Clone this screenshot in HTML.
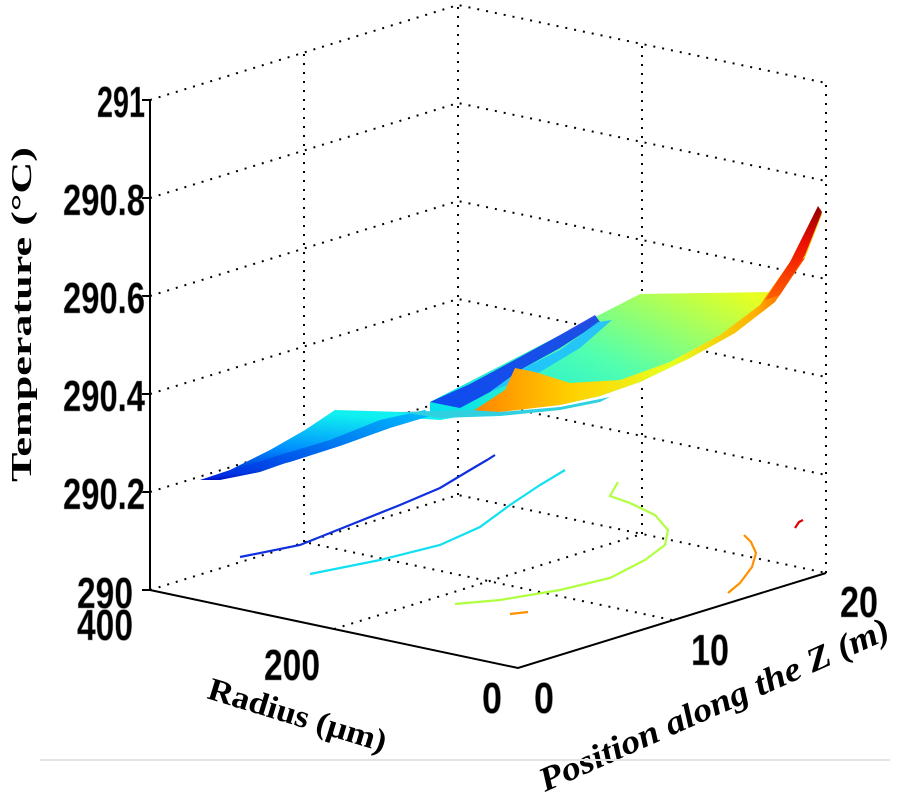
<!DOCTYPE html>
<html><head><meta charset="utf-8"><style>html,body{margin:0;padding:0;background:#fff}svg{display:block}</style></head>
<body>
<svg width="900" height="800" viewBox="0 0 900 800" xmlns="http://www.w3.org/2000/svg">
<defs>
<linearGradient id="gA" x1="0" y1="1" x2="0.3" y2="0"><stop offset="0" stop-color="#0010c8"/><stop offset="0.5" stop-color="#0090ff"/><stop offset="1" stop-color="#10f0f0"/></linearGradient>
<linearGradient id="gC" x1="0" y1="1" x2="1" y2="0"><stop offset="0" stop-color="#00e0f0"/><stop offset="0.35" stop-color="#50ffb0"/><stop offset="0.7" stop-color="#e8ff20"/><stop offset="1" stop-color="#ffb000"/></linearGradient>
<linearGradient id="gO" x1="0" y1="0" x2="1" y2="0"><stop offset="0" stop-color="#ff8000"/><stop offset="0.3" stop-color="#ffd000"/><stop offset="0.6" stop-color="#e8ff20"/><stop offset="0.85" stop-color="#ffb000"/><stop offset="1" stop-color="#ff4000"/></linearGradient>
<linearGradient id="gR" x1="0" y1="1" x2="0" y2="0"><stop offset="0" stop-color="#ff6000"/><stop offset="0.6" stop-color="#ee1000"/><stop offset="1" stop-color="#900000"/></linearGradient>
<linearGradient id="gB" x1="0" y1="1" x2="1" y2="0"><stop offset="0" stop-color="#0020e0"/><stop offset="1" stop-color="#00c0ff"/></linearGradient>
</defs>
<g stroke="#000" stroke-width="2" stroke-dasharray="2 7" fill="none">
<line x1="458" y1="495" x2="458" y2="5"/>
<line x1="826" y1="573" x2="826" y2="83"/>
<line x1="304" y1="542" x2="304" y2="52"/>
<line x1="642" y1="534" x2="642" y2="44"/>
<polyline points="150,100 458,5 826,83"/>
<polyline points="150,198 458,103 826,181"/>
<polyline points="150,296 458,201 826,279"/>
<polyline points="150,394 458,299 826,377"/>
<polyline points="150,492 458,397 826,475"/>
<polyline points="150,590 458,495 826,573"/>
<line x1="334" y1="629" x2="642" y2="534"/>
<line x1="672" y1="620" x2="304" y2="542"/>
</g>
<!-- surface -->
<polygon points="335,410 475,414 440,420 410,418 380,428 340,442 300,458 260,472 220,480 200,480 230,470 270,450 305,430" fill="url(#gA)"/>
<polygon points="200,480 240,474 290,462 340,446 390,428 430,416 425,410 380,420 330,440 280,455" fill="url(#gB)"/>
<polygon points="430,402 640,294 775,292 800,255 818,208 822,214 805,258 775,302 735,333 690,358 640,382 600,396 560,405 480,413 430,412" fill="url(#gC)"/>
<polygon points="430,402 470,384 520,357 560,335 595,315 600,322 560,348 520,370 490,392 460,408" fill="#1030f0" opacity="0.85"/>
<polygon points="490,392 520,370 560,350 598,322 612,320 580,348 540,372 515,382" fill="#20c0ff" opacity="0.9"/>
<polygon points="515,368 535,372 570,383 620,380 670,362 720,335 760,305 790,262 805,258 775,302 735,333 690,358 640,382 600,396 560,405 500,412 470,413 505,390" fill="url(#gO)"/>
<polygon points="790,262 818,206 822,212 805,255 780,295 765,300" fill="url(#gR)"/>
<polygon points="400,412 470,410 500,412 560,407 610,397 600,402 560,410 500,416 440,418" fill="#30d0e0"/>
<g fill="none" stroke-width="2.2">
<polyline stroke="#1030e0" points="240,557 300,545 350,525 400,505 440,488 470,470 487,460 495,455"/>
<polyline stroke="#10e0f0" points="310,574 380,560 440,545 480,527 510,505 540,485 565,470"/>
<polyline stroke="#b0ff40" points="455,604 500,600 560,590 610,578 645,560 665,545 668,530 655,515 630,503 610,496 618,482"/>
<polyline stroke="#ff9000" points="510,614 528,612"/>
<polyline stroke="#ff9000" points="728,593 740,583 752,567 756,553 751,542 744,535"/>
<polyline stroke="#e00000" points="795,528 799,522 803,520"/>
</g>
<g stroke="#000" stroke-width="2" fill="none">
<line x1="150" y1="100" x2="150" y2="590"/>
<polyline points="150,590 518,668 826,573"/>
<line x1="142" y1="100" x2="150" y2="100"/><line x1="142" y1="198" x2="150" y2="198"/><line x1="142" y1="296" x2="150" y2="296"/><line x1="142" y1="394" x2="150" y2="394"/><line x1="142" y1="492" x2="150" y2="492"/><line x1="142" y1="590" x2="150" y2="590"/>
</g>
<g font-family="Liberation Sans, sans-serif" font-weight="bold" font-size="44" fill="#000" stroke="#888" stroke-width="0.6">
<text x="97" y="117" textLength="48" lengthAdjust="spacingAndGlyphs">291</text>
<text x="63" y="215" textLength="82" lengthAdjust="spacingAndGlyphs">290.8</text>
<text x="63" y="313" textLength="82" lengthAdjust="spacingAndGlyphs">290.6</text>
<text x="63" y="411" textLength="82" lengthAdjust="spacingAndGlyphs">290.4</text>
<text x="63" y="509" textLength="82" lengthAdjust="spacingAndGlyphs">290.2</text>
<text x="77" y="608" textLength="56" lengthAdjust="spacingAndGlyphs">290</text>
<text x="77" y="640" textLength="56" lengthAdjust="spacingAndGlyphs">400</text>
<text x="264" y="680" textLength="56" lengthAdjust="spacingAndGlyphs">200</text>
<text x="482" y="713" textLength="20" lengthAdjust="spacingAndGlyphs">0</text>
<text x="534" y="713" textLength="20" lengthAdjust="spacingAndGlyphs">0</text>
<text x="691" y="665" textLength="38" lengthAdjust="spacingAndGlyphs">10</text>
<text x="840" y="617" textLength="38" lengthAdjust="spacingAndGlyphs">20</text>
</g>
<g font-family="Liberation Serif, serif" font-weight="bold" fill="#000">
<text font-size="28" transform="translate(31,482) rotate(-90)" textLength="335" lengthAdjust="spacingAndGlyphs">Temperature (°C)</text>
<text font-size="32" transform="translate(206,698) rotate(17)" textLength="185" lengthAdjust="spacingAndGlyphs">Radius (μm)</text>
<text font-size="34" font-style="italic" transform="translate(545,792) rotate(-24)" textLength="380" lengthAdjust="spacingAndGlyphs">Position along the Z (m)</text>
</g>
<line x1="40" y1="760" x2="890" y2="760" stroke="#e4e4e4" stroke-width="2"/>
</svg>
</body></html>
